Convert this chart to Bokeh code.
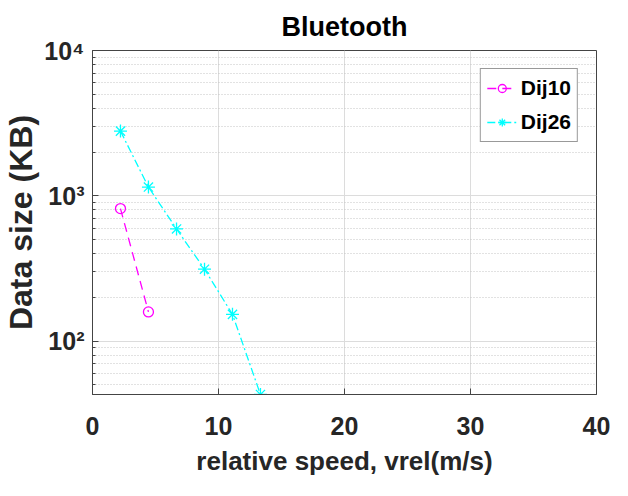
from bokeh.plotting import figure
from bokeh.models import FixedTicker, Legend, LegendItem, Range1d
from bokeh.embed import file_html
from bokeh.resources import INLINE

# data
speed = [2.22, 4.44, 6.67, 8.89, 11.11, 13.33]
dij10_speed = [2.22, 4.44]
dij10_size = [817, 159]
dij26_speed = speed
dij26_size = [2790, 1150, 592, 313, 153, 43]
x_ticks = [0, 10, 20, 30, 40]
y_ticks = [100, 1000, 10000]
y_tick_labels = ["10\u00b2", "10\u00b3", "10\u2074"]

FONT = "'Liberation Sans', Arial, sans-serif"

p = figure(width=628, height=496, y_axis_type="log",
           x_range=Range1d(0, 40), y_range=Range1d(43, 10000),
           output_backend="svg", toolbar_location=None,
           min_border_left=92, min_border_right=32,
           min_border_top=50, min_border_bottom=102)
p.background_fill_color = "white"
p.border_fill_color = "white"
p.outline_line_color = "#444444"
p.outline_line_width = 1

p.title.text = "Bluetooth"
p.title.align = "center"
p.title.text_font = FONT
p.title.text_font_size = "27px"
p.title.text_font_style = "bold"
p.title.text_color = "black"
p.title.offset = 0
p.title.standoff = 18

minor = [m * 10 ** k for k in range(1, 4) for m in range(2, 10)]
minor = [v for v in minor if v >= 43]
p.yaxis.ticker = FixedTicker(ticks=y_ticks, minor_ticks=minor)
p.yaxis.major_label_overrides = {t: l for t, l in zip(y_ticks, y_tick_labels)}
p.xaxis.ticker = FixedTicker(ticks=x_ticks)

for ax in (p.xaxis[0], p.yaxis[0]):
    ax.axis_line_color = "#444444"
    ax.major_tick_in = 6
    ax.major_tick_out = 0
    ax.minor_tick_in = 3
    ax.minor_tick_out = 0
    ax.major_tick_line_color = "#444444"
    ax.minor_tick_line_color = "#444444"
    ax.major_label_text_font = FONT
    ax.major_label_text_font_style = "bold"
    ax.major_label_text_color = "#262626"
    ax.axis_label_text_font = FONT
    ax.axis_label_text_font_style = "bold"
    ax.axis_label_text_color = "#262626"

p.xaxis.major_label_text_font_size = "25px"
p.yaxis.major_label_text_font_size = "25px"
p.xaxis.major_label_standoff = 22
p.yaxis.major_label_standoff = 8
p.xaxis.axis_label = "relative speed, vrel(m/s)"
p.xaxis.axis_label_text_font_size = "26px"
p.xaxis.axis_label_standoff = 8
p.yaxis.axis_label = "Data size (KB)"
p.yaxis.axis_label_text_font_size = "32px"
p.yaxis.axis_label_standoff = 2

p.xgrid.grid_line_color = "#dcdcdc"
p.ygrid.grid_line_color = "#dcdcdc"
p.ygrid.minor_grid_line_color = "#c4c4c4"
p.ygrid.minor_grid_line_dash = "1 2"

l1 = p.line(dij10_speed, dij10_size, line_color="#ff00ff", line_width=1.3, line_dash="9 6")
m1 = p.scatter(dij10_speed, dij10_size, marker="circle", size=10, fill_color=None,
               line_color="#ff00ff", line_width=1.3)
l2 = p.line(dij26_speed, dij26_size, line_color="#00ffff", line_width=1.3, line_dash="8 3 2 3")
m2 = p.scatter(dij26_speed, dij26_size, marker="asterisk", size=13,
               line_color="#00ffff", line_width=1.3)

legend = Legend(items=[LegendItem(label="Dij10", renderers=[l1, m1]),
                       LegendItem(label="Dij26", renderers=[l2, m2])],
                location="top_right")
legend.margin = 18
legend.label_text_font = FONT
legend.label_text_font_style = "bold"
legend.label_text_font_size = "21px"
legend.label_text_color = "black"
legend.border_line_color = "#333333"
legend.border_line_width = 1
legend.glyph_width = 30
legend.label_standoff = 4
legend.padding = 6
legend.spacing = 8
legend.label_height = 26
legend.background_fill_alpha = 1
p.add_layout(legend, "center")

open("out.html", "w").write(file_html(p, INLINE))
